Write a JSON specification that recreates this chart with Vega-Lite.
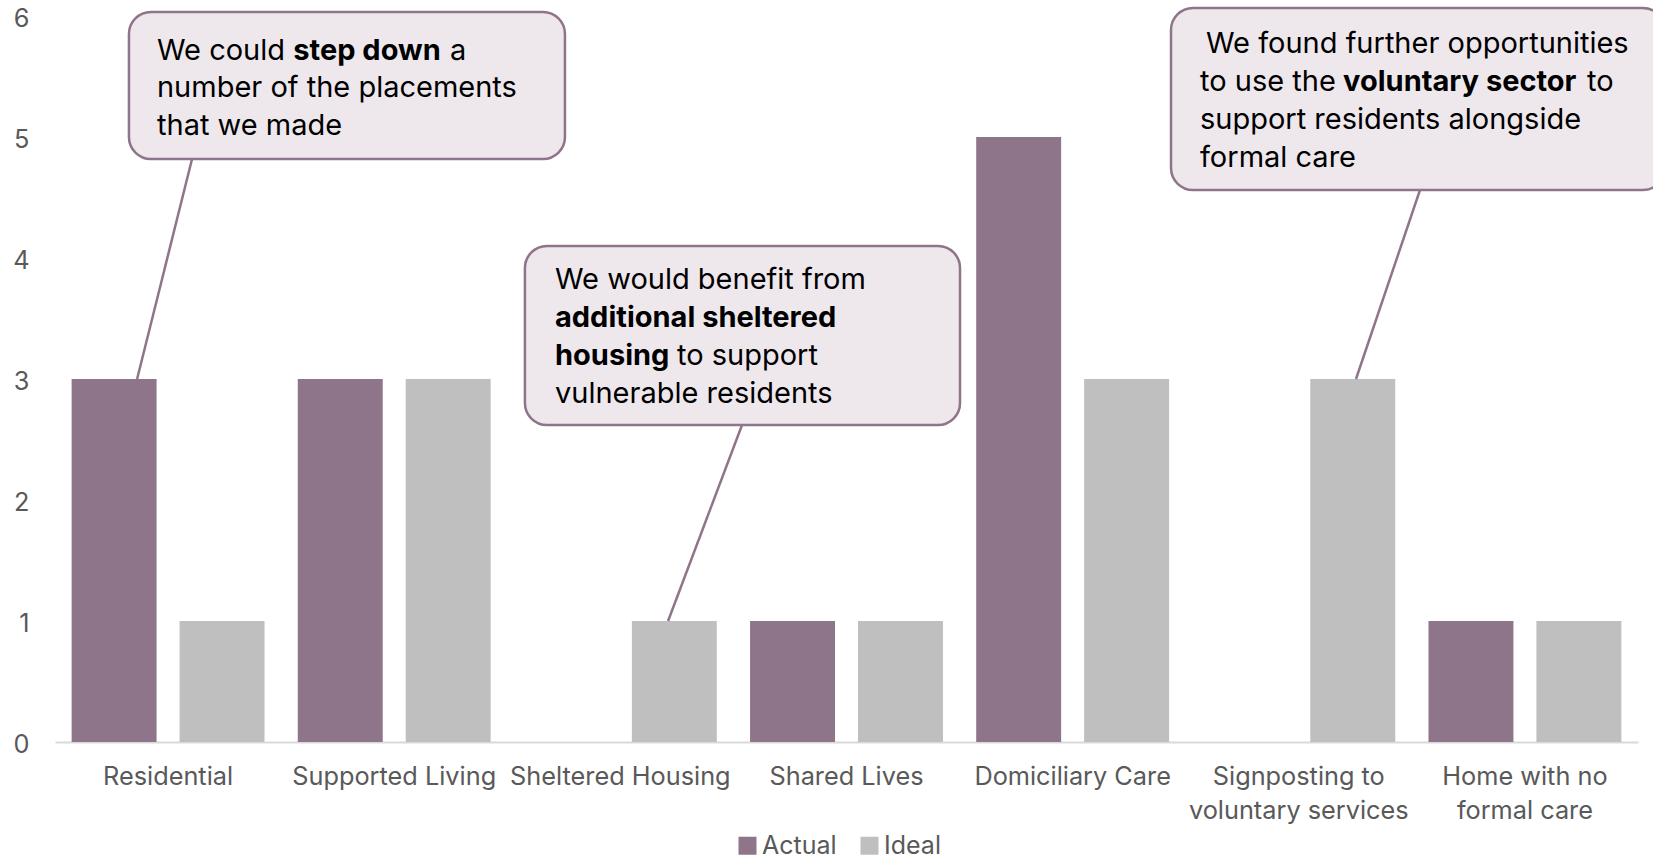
{
  "$schema": "https://vega.github.io/schema/vega-lite/v6.json",
  "autosize": {"type": "none"},
  "width": 1583,
  "height": 726,
  "padding": {"left": 55, "top": 16, "right": 15, "bottom": 118},
  "background": "#ffffff",
  "datasets": {
    "bars": [
      {"category": "Residential", "series": "Actual", "value": 3},
      {"category": "Residential", "series": "Ideal", "value": 1},
      {"category": "Supported Living", "series": "Actual", "value": 3},
      {"category": "Supported Living", "series": "Ideal", "value": 3},
      {"category": "Sheltered Housing", "series": "Actual", "value": 0},
      {"category": "Sheltered Housing", "series": "Ideal", "value": 1},
      {"category": "Shared Lives", "series": "Actual", "value": 1},
      {"category": "Shared Lives", "series": "Ideal", "value": 1},
      {"category": "Domiciliary Care", "series": "Actual", "value": 5},
      {"category": "Domiciliary Care", "series": "Ideal", "value": 3},
      {"category": "Signposting to voluntary services", "series": "Actual", "value": 0},
      {"category": "Signposting to voluntary services", "series": "Ideal", "value": 3},
      {"category": "Home with no formal care", "series": "Actual", "value": 1},
      {"category": "Home with no formal care", "series": "Ideal", "value": 1}
    ],
    "boxes": [
      {"x1": 0.327, "x2": 2.255, "y1": 6.033, "y2": 4.818},
      {"x1": 2.078, "x2": 4.002, "y1": 4.099, "y2": 2.620},
      {"x1": 4.935, "x2": 7.119, "y1": 6.066, "y2": 4.562}
    ],
    "leaders": [
      {"x1": 0.606, "y1": 4.818, "x2": 0.363, "y2": 3.0},
      {"x1": 3.038, "y1": 2.620, "x2": 2.711, "y2": 1.0},
      {"x1": 6.036, "y1": 4.562, "x2": 5.753, "y2": 3.0}
    ],
    "notes_regular": [
      {"x": 0.451, "y": 5.636, "text": "We could"},
      {"x": 1.7467, "y": 5.636, "text": "a"},
      {"x": 0.451, "y": 5.331, "text": "number of the placements"},
      {"x": 0.451, "y": 5.017, "text": "that we made"},
      {"x": 2.211, "y": 3.744, "text": "We would benefit from"},
      {"x": 2.7505, "y": 3.116, "text": "to support"},
      {"x": 2.211, "y": 2.802, "text": "vulnerable residents"},
      {"x": 5.0897, "y": 5.694, "text": "We found further opportunities"},
      {"x": 5.0631, "y": 5.380, "text": "to use the"},
      {"x": 6.7744, "y": 5.380, "text": "to"},
      {"x": 5.0631, "y": 5.066, "text": "support residents alongside"},
      {"x": 5.0631, "y": 4.752, "text": "formal care"}
    ],
    "notes_bold": [
      {"x": 1.054, "y": 5.636, "text": "step down"},
      {"x": 2.211, "y": 3.430, "text": "additional sheltered"},
      {"x": 2.211, "y": 3.116, "text": "housing"},
      {"x": 5.696, "y": 5.380, "text": "voluntary sector"}
    ]
  },
  "resolve": {"scale": {"x": "independent"}},
  "layer": [
    {
      "data": {"name": "bars"},
      "mark": {"type": "bar"},
      "encoding": {
        "x": {
          "field": "category",
          "type": "nominal",
          "sort": null,
          "title": null,
          "scale": {"paddingInner": 0, "paddingOuter": 0},
          "axis": {
            "labelExpr": "datum.label == 'Signposting to voluntary services' ? ['Signposting to', 'voluntary services'] : datum.label == 'Home with no formal care' ? ['Home with no', 'formal care'] : datum.label"
          }
        },
        "xOffset": {
          "field": "series",
          "type": "nominal",
          "sort": ["Actual", "Ideal"],
          "scale": {"paddingInner": 0.213, "paddingOuter": 0.154}
        },
        "y": {
          "field": "value",
          "type": "quantitative",
          "title": null,
          "scale": {"domain": [0, 6], "nice": false}
        },
        "color": {
          "field": "series",
          "type": "nominal",
          "scale": {"domain": ["Actual", "Ideal"], "range": ["#8F7589", "#BFBFBF"]},
          "legend": {
            "title": null,
            "orient": "none",
            "direction": "horizontal",
            "legendX": 680,
            "legendY": 817,
            "padding": 0,
            "symbolType": "square",
            "symbolSize": 324,
            "symbolStrokeWidth": 0,
            "labelFontSize": 25,
            "labelColor": "#595959",
            "labelFont": "Inter",
            "labelOffset": 2,
            "columnPadding": 20
          }
        }
      }
    },
    {
      "data": {"name": "leaders"},
      "mark": {"type": "rule", "color": "#8F7589", "strokeWidth": 2.5},
      "encoding": {
        "x": {"field": "x1", "type": "quantitative", "scale": {"domain": [0, 7], "nice": false, "zero": false}, "axis": null},
        "x2": {"field": "x2"},
        "y": {"field": "y1", "type": "quantitative", "title": null},
        "y2": {"field": "y2"}
      }
    },
    {
      "data": {"name": "boxes"},
      "mark": {"type": "rect", "fill": "#EEE8ED", "stroke": "#8F7589", "strokeWidth": 2.5, "cornerRadius": 22},
      "encoding": {
        "x": {"field": "x1", "type": "quantitative", "scale": {"domain": [0, 7], "nice": false, "zero": false}, "axis": null},
        "x2": {"field": "x2"},
        "y": {"field": "y1", "type": "quantitative", "title": null},
        "y2": {"field": "y2"}
      }
    },
    {
      "data": {"name": "notes_regular"},
      "mark": {"type": "text", "align": "left", "baseline": "alphabetic", "font": "Inter", "fontSize": 29, "color": "#000000"},
      "encoding": {
        "x": {"field": "x", "type": "quantitative", "scale": {"domain": [0, 7], "nice": false, "zero": false}, "axis": null},
        "y": {"field": "y", "type": "quantitative", "title": null},
        "text": {"field": "text"}
      }
    },
    {
      "data": {"name": "notes_bold"},
      "mark": {"type": "text", "align": "left", "baseline": "alphabetic", "font": "Inter", "fontSize": 29, "fontWeight": "bold", "color": "#000000"},
      "encoding": {
        "x": {"field": "x", "type": "quantitative", "scale": {"domain": [0, 7], "nice": false, "zero": false}, "axis": null},
        "y": {"field": "y", "type": "quantitative", "title": null},
        "text": {"field": "text"}
      }
    }
  ],
  "config": {
    "view": {"stroke": null},
    "font": "Inter",
    "axisX": {
      "domain": true,
      "domainColor": "#D9D9D9",
      "domainWidth": 2,
      "ticks": false,
      "grid": false,
      "labelAngle": 0,
      "labelFont": "Inter",
      "labelFontSize": 25.3,
      "labelColor": "#595959",
      "labelPadding": 22,
      "labelLimit": 400,
      "labelLineHeight": 34
    },
    "axisY": {
      "domain": false,
      "ticks": false,
      "grid": false,
      "tickCount": 6,
      "labelFont": "Inter",
      "labelFontSize": 25.3,
      "labelColor": "#595959",
      "labelPadding": 26,
      "labelOffset": 2
    }
  }
}
